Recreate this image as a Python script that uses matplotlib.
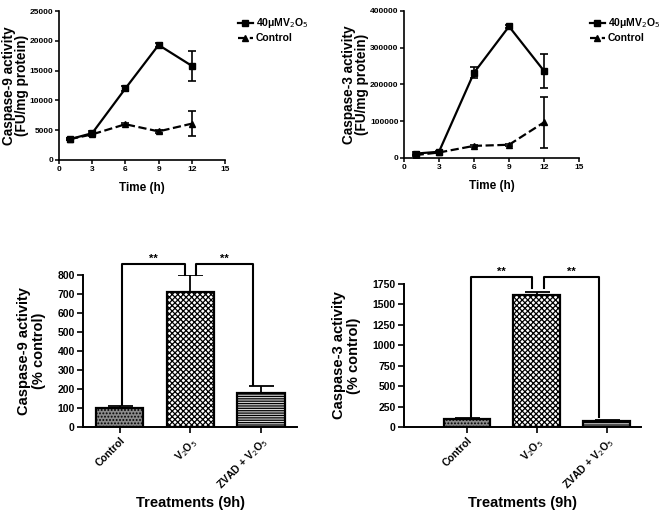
import matplotlib
matplotlib.use("Agg")
import matplotlib.pyplot as plt
from matplotlib.lines import Line2D
import numpy as np

plt.rcParams['font.family'] = ['Liberation Sans', 'DejaVu Sans']
plt.rcParams['hatch.linewidth'] = 0.9

# ---- data ----
time_h = [1, 3, 6, 9, 12]
casp9_v2o5 = [3500, 4500, 12000, 19300, 15800]
casp9_v2o5_err = [200, 300, 400, 400, 2500]
casp9_ctrl = [3500, 4300, 6000, 4800, 6100]
casp9_ctrl_err = [200, 200, 200, 300, 2050]

casp3_v2o5 = [12000, 17000, 232000, 358000, 237000]
casp3_v2o5_err = [3000, 3000, 15000, 3000, 47000]
casp3_ctrl = [8000, 15000, 33000, 36000, 97000]
casp3_ctrl_err = [2000, 2000, 2000, 2000, 70000]

treatments = ['Control', 'V$_2$O$_5$', 'ZVAD + V$_2$O$_5$']
casp9_pct = [100, 710, 180]
casp9_pct_err = [12, 88, 35]
casp3_pct = [100, 1610, 75]
casp3_pct_err = [8, 40, 10]

fig = plt.figure(figsize=(6.72, 5.17), dpi=100)

legend_labels = ['40\u03bcMV$_2$O$_5$', 'Control']


def line_panel(rect, v, ve, c, ce, ylim, yticks, ylabel, leg_xy):
    ax = fig.add_axes(rect)
    ax.errorbar(time_h, v, yerr=ve, color='black', lw=1.6, marker='s', ms=4,
                capsize=3, elinewidth=1.2, capthick=1.2)
    ax.errorbar(time_h, c, yerr=ce, color='black', lw=1.6, ls='--', marker='^', ms=4,
                capsize=3, elinewidth=1.2, capthick=1.2)
    ax.set_xlim(0, 15)
    ax.set_ylim(*ylim)
    ax.set_xticks([0, 3, 6, 9, 12, 15])
    ax.set_yticks(yticks)
    for s in ['top', 'right']:
        ax.spines[s].set_visible(False)
    for s in ['left', 'bottom']:
        ax.spines[s].set_linewidth(1.2)
    ax.tick_params(direction='out', length=3, width=1.1, labelsize=6, pad=1)
    for t in ax.get_xticklabels() + ax.get_yticklabels():
        t.set_fontweight('bold')
    ax.set_xlabel('Time (h)', fontsize=8.5, fontweight='bold', labelpad=7)
    ax.set_ylabel(ylabel, fontsize=9.8, fontweight='bold', labelpad=0.5, linespacing=0.9)
    h1 = Line2D([], [], color='black', lw=1.6, marker='s', ms=4)
    h2 = Line2D([], [], color='black', lw=1.6, ls='--', marker='^', ms=4)
    fig.legend([h1, h2], legend_labels, loc='upper left', bbox_to_anchor=leg_xy,
               frameon=False, handlelength=1.4, handletextpad=0.3,
               borderaxespad=0, labelspacing=0.3, prop={'weight': 'bold', 'size': 7.5})
    return ax


line_panel([59/672, 1 - 160/517, 166/672, 149/517], casp9_v2o5, casp9_v2o5_err,
           casp9_ctrl, casp9_ctrl_err, (0, 25000), [0, 5000, 10000, 15000, 20000, 25000],
           'Caspase-9 activity\n(FU/mg protein)', (234/672, 1 - 12/517))
line_panel([404/672, 1 - 158/517, 175/672, 147/517], casp3_v2o5, casp3_v2o5_err,
           casp3_ctrl, casp3_ctrl_err, (0, 400000), [0, 100000, 200000, 300000, 400000],
           'Caspase-3 activity\n(FU/mg protein)', (586/672, 1 - 12/517))

bar_hatches = ['.....', 'xxxxxx', '-------']


def bar_panel(rect, vals, errs, xlim, ylim, yticks, ylabel, brackets, faces):
    ax = fig.add_axes(rect)
    x = np.arange(len(vals))
    for i in range(len(vals)):
        ax.bar(x[i], vals[i], width=0.67, color=faces[i], edgecolor='black', lw=1.6,
               hatch=bar_hatches[i], zorder=2)
        ax.errorbar(x[i], vals[i], yerr=[[0], [errs[i]]], color='black', lw=1.3,
                    capsize=9, capthick=1.3, zorder=3)
    ax.set_xlim(*xlim)
    ax.set_ylim(*ylim)
    ax.set_yticks(yticks)
    ax.set_xticks(x)
    ax.set_xticklabels(treatments, rotation=45, ha='right', rotation_mode='anchor',
                       fontsize=8, fontweight='bold')
    for s in ['top', 'right']:
        ax.spines[s].set_visible(False)
    for s in ['left', 'bottom']:
        ax.spines[s].set_linewidth(1.4)
    ax.tick_params(direction='out', length=4, width=1.2, labelsize=7.5, pad=2)
    for t in ax.get_yticklabels():
        t.set_fontweight('bold')
    ax.set_ylabel(ylabel, fontsize=10.5, fontweight='bold', labelpad=8, linespacing=1.1)
    ax.set_xlabel('Treatments (9h)', fontsize=10.5, fontweight='bold', labelpad=3)
    for (xa, ya, xb, yb, top) in brackets:
        ax.plot([xa, xa, xb, xb], [ya, top, top, yb], color='black', lw=1.5,
                clip_on=False, zorder=4)
        ax.text((xa + xb) / 2, top, '**', ha='center', va='bottom', fontsize=8,
                fontweight='bold')
    return ax


bar_panel([83/672, 90/517, 214/672, 152/517], casp9_pct, casp9_pct_err,
          (-0.52, 2.51), (0, 800), [0, 100, 200, 300, 400, 500, 600, 700, 800],
          'Caspase-9 activity\n(% control)',
          [(0.03, 115, 0.92, 800, 858), (1.08, 800, 1.89, 222, 858)],
          ['#8a8a8a', 'white', '#d8d8d8'])
bar_panel([404/672, 90/517, 237/672, 143/517], casp3_pct, casp3_pct_err,
          (-0.9, 2.49), (0, 1750), [0, 250, 500, 750, 1000, 1250, 1500, 1750],
          'Caspase-3 activity\n(% control)',
          [(0.06, 100, 0.93, 1700, 1836), (1.1, 1700, 1.89, 120, 1836)],
          ['#8a8a8a', 'white', '#e0e0e0'])

fig.savefig('out.png', dpi=100)
